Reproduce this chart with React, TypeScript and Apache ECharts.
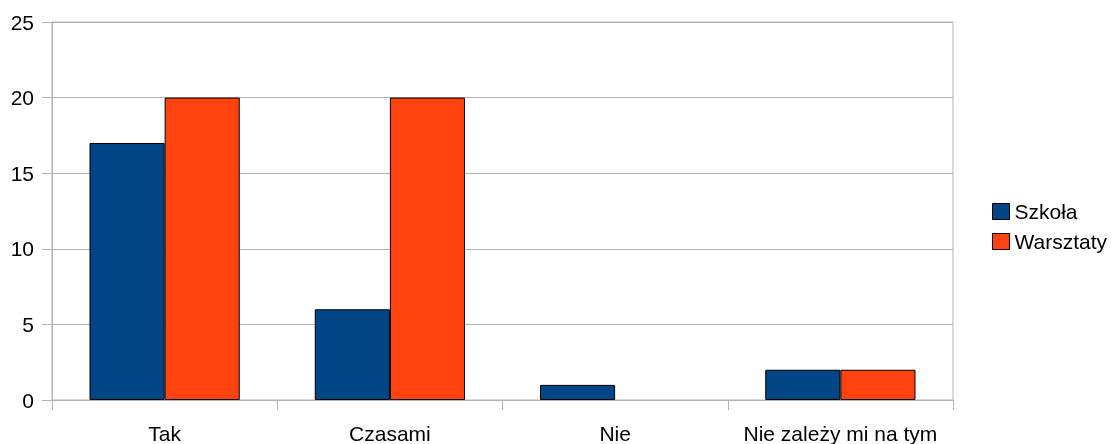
import React, { useEffect, useRef } from "react";
import * as echarts from "echarts";

const categories = ["Tak", "Czasami", "Nie", "Nie zależy mi na tym"];
const szkola = [17, 6, 1, 2];
const warsztaty = [20, 20, 0, 2];
const seriesNames = ["Szkoła", "Warsztaty"];
const colors = ["#004586", "#ff420e"];

export default function App() {
  const ref = useRef<HTMLDivElement>(null);
  useEffect(() => {
    const chart = echarts.init(ref.current!, null, { renderer: "svg" });
    const font = "Liberation Sans";
    const grey = "#b3b3b3";
    chart.setOption({
      animation: false,
      textStyle: { fontFamily: font },
      grid: {
        left: 52, right: 160, top: 22, bottom: 42,
        show: true, borderColor: grey, borderWidth: 1, backgroundColor: "transparent",
      },
      legend: {
        orient: "vertical",
        left: 987, top: 196,
        itemWidth: 17, itemHeight: 16, itemGap: 9,
        itemTextGap: 9,
        icon: "rect",
        textStyle: { fontFamily: font, fontSize: 21, color: "#000" },
        data: seriesNames.map((n, i) => ({ name: n, itemStyle: { color: colors[i], borderColor: "#000", borderWidth: 1 } })),
      },
      xAxis: {
        type: "category",
        data: categories,
        axisLine: { lineStyle: { color: grey } },
        axisTick: { show: true, length: 10, lineStyle: { color: grey }, alignWithLabel: false },
        axisLabel: { fontFamily: font, fontSize: 21, color: "#000", margin: 23, interval: 0 },
        splitLine: { show: false },
      },
      yAxis: {
        type: "value",
        min: 0, max: 25, interval: 5,
        axisLine: { show: true, lineStyle: { color: grey } },
        axisTick: { show: true, length: 10, lineStyle: { color: grey } },
        axisLabel: { fontFamily: font, fontSize: 21, color: "#000", margin: 18 },
        splitLine: { show: true, lineStyle: { color: grey } },
      },
      series: [szkola, warsztaty].map((d, i) => ({
        name: seriesNames[i],
        type: "bar",
        data: d.map((v) => ({ value: v, itemStyle: v === 0 ? { borderWidth: 0 } : undefined })),
        barGap: "0%",
        barCategoryGap: "33.3%",
        itemStyle: { color: colors[i], borderColor: "#000", borderWidth: 1 },
      })),
    });
    return () => chart.dispose();
  }, []);
  return <div ref={ref} style={{ position: "fixed", left: 0, top: 0, width: 1113, height: 444 }} />;
}
